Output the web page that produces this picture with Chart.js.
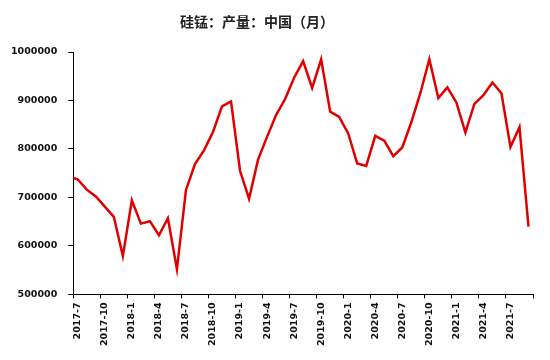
<!DOCTYPE html>
<html>
<head>
<meta charset="utf-8">
<script src="https://cdn.jsdelivr.net/npm/chart.js@4/dist/chart.umd.min.js"></script>
<style>
html,body{margin:0;padding:0;background:#fff;}
canvas{display:block;}
</style>
</head>
<body>
<canvas id="c" width="550" height="360"></canvas>
<script>
// Months of the series (the 2017-6 value lies left of the axis start and is clipped, as in the reference)
const months = [
  '2017-6','2017-7','2017-8','2017-9','2017-10','2017-11','2017-12',
  '2018-1','2018-2','2018-3','2018-4','2018-5','2018-6','2018-7','2018-8','2018-9','2018-10','2018-11','2018-12',
  '2019-1','2019-2','2019-3','2019-4','2019-5','2019-6','2019-7','2019-8','2019-9','2019-10','2019-11','2019-12',
  '2020-1','2020-2','2020-3','2020-4','2020-5','2020-6','2020-7','2020-8','2020-9','2020-10','2020-11','2020-12',
  '2021-1','2021-2','2021-3','2021-4','2021-5','2021-6','2021-7','2021-8','2021-9'
];
// 硅锰产量 (吨)
const output = [
  744000, 737000, 716000, 702000, 681000, 660000, 579000,
  694000, 646000, 651000, 622000, 657000, 552000, 715000, 769000, 797000, 835000, 888000, 898000,
  755000, 697000, 778000, 825000, 870000, 903000, 947000, 981000, 926000, 985000, 877000, 866000,
  832000, 770000, 765000, 827000, 817000, 785000, 803000, 855000, 915000, 985000, 905000, 927000,
  896000, 834000, 893000, 911000, 937000, 915000, 804000, 845000, 640000
];
const xTickLabels = ['2017-7','2017-10','2018-1','2018-4','2018-7','2018-10','2019-1','2019-4','2019-7','2019-10','2020-1','2020-4','2020-7','2020-10','2021-1','2021-4','2021-7'];
const yMin = 500000, yMax = 1000000, yStep = 100000;
const axisStart = '2017-7', axisEnd = '2021-9';
const titleText = '硅锰：产量：中国（月）';

const i0 = months.indexOf(axisStart);
const iEnd = months.indexOf(axisEnd);
const points = output.map((v, i) => ({x: i - i0, y: v}));
const xMin = -0.5, xMax = (iEnd - i0) + 0.5;

const titlePlugin = {
  id: 'titleAt',
  afterDraw(chart) {
    const ctx = chart.ctx;
    ctx.save();
    ctx.font = 'bold 14px "Noto Sans CJK SC"';
    ctx.fillStyle = '#222';
    ctx.textAlign = 'center';
    ctx.textBaseline = 'middle';
    ctx.fillText(titleText, 257, 22);
    ctx.restore();
  }
};

const tickFont = {family: 'DejaVu Sans', size: 9.5, weight: 'bold'};

new Chart(document.getElementById('c'), {
  type: 'line',
  data: {
    datasets: [{
      label: titleText,
      data: points,
      borderColor: '#e00000',
      backgroundColor: '#e00000',
      borderWidth: 2.5,
      pointRadius: 0,
      tension: 0,
      clip: 0
    }]
  },
  options: {
    responsive: false,
    animation: false,
    parsing: {xAxisKey: 'x', yAxisKey: 'y'},
    layout: {padding: {top: 52, left: 0, right: 17, bottom: 10}},
    plugins: {legend: {display: false}, title: {display: false}, tooltip: {enabled: false}},
    scales: {
      x: {
        type: 'linear',
        min: xMin,
        max: xMax,
        afterBuildTicks(scale) {
          const t = xTickLabels.map(l => ({value: months.indexOf(l) - i0 - 0.5}));
          t.push({value: xMax});
          scale.ticks = t;
        },
        ticks: {
          autoSkip: false,
          minRotation: 90,
          maxRotation: 90,
          labelOffset: 4.5,
          padding: 4,
          color: '#111',
          font: tickFont,
          callback(value) {
            const m = months[Math.round(value + 0.5) + i0];
            return xTickLabels.includes(m) ? m : '';
          }
        },
        grid: {drawOnChartArea: false, drawTicks: true, tickLength: 4, color: '#000', lineWidth: 1},
        border: {display: true, color: '#000', width: 1}
      },
      y: {
        type: 'linear',
        min: yMin,
        max: yMax,
        ticks: {
          stepSize: yStep,
          padding: 11,
          color: '#111',
          font: tickFont,
          callback: v => String(v)
        },
        grid: {drawOnChartArea: false, drawTicks: true, tickLength: 5, color: '#000', lineWidth: 1},
        border: {display: true, color: '#000', width: 1}
      }
    }
  },
  plugins: [titlePlugin]
});
</script>
</body>
</html>
